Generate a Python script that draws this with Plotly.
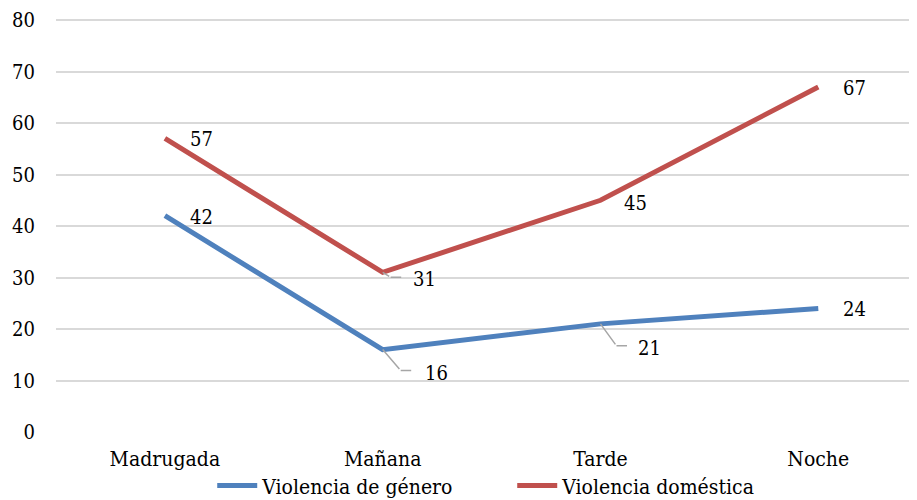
"""Franja horaria: violencia de género vs violencia doméstica."""
import plotly.graph_objects as go

franjas = ['Madrugada', 'Mañana', 'Tarde', 'Noche']
violencia_genero = [42, 16, 21, 24]
violencia_domestica = [57, 31, 45, 67]
y_ticks = [0, 10, 20, 30, 40, 50, 60, 70, 80]

# only serif family available in the sandbox
FONT = 'DejaVu Serif Condensed, DejaVu Serif'
BLUE = '#4F81BD'
RED = '#C0504D'
LEADER = '#A6A6A6'

# label offsets in px (dx to text left edge, dy down to text centre)
# and an optional leader line elbow (diagonal end, horizontal end)
genero_labels = [
    (23, 1, None),
    (40, 23, ((18, 21), (30, 21))),
    (36, 24, ((16, 22), (28, 22))),
    (23, 1, None),
]
domestica_labels = [
    (23, 1, None),
    (28, 7, ((8, 5), (20, 5))),
    (22, 3, None),
    (23, 1, None),
]

fig = go.Figure()

fig.add_trace(go.Scatter(
    x=franjas, y=violencia_genero, mode='lines',
    name='Violencia de género',
    line=dict(color=BLUE, width=5),
))
fig.add_trace(go.Scatter(
    x=franjas, y=violencia_domestica, mode='lines',
    name='Violencia doméstica',
    line=dict(color=RED, width=5),
))


def add_labels(values, offsets):
    for cat, val, (dx, dy, leader) in zip(franjas, values, offsets):
        if leader:
            (x1, y1), (x2, y2) = leader
            # diagonal segment from the point
            fig.add_annotation(
                x=cat, y=val, text='', showarrow=True, arrowhead=0,
                arrowwidth=1.5, arrowcolor=LEADER, ax=x1, ay=y1,
                standoff=0, startstandoff=0,
            )
            # horizontal segment towards the label
            fig.add_annotation(
                x=cat, y=val, text='', showarrow=True, arrowhead=0,
                arrowwidth=1.5, arrowcolor=LEADER, ax=x2 - x1, ay=0,
                xshift=x1, yshift=-y1, standoff=0, startstandoff=0,
            )
        fig.add_annotation(
            x=cat, y=val, text=str(val), showarrow=False,
            xanchor='left', yanchor='middle',
            xshift=dx, yshift=-dy,
            font=dict(family=FONT, size=20, color='#000000'),
        )


add_labels(violencia_genero, genero_labels)
add_labels(violencia_domestica, domestica_labels)

# the page body adds an 8px offset, margins compensate for it
fig.update_layout(
    width=917,
    height=500,
    margin=dict(l=48, r=0, t=10, b=76),
    plot_bgcolor='white',
    paper_bgcolor='white',
    font=dict(family=FONT, size=20, color='#000000'),
    xaxis=dict(
        type='category',
        range=[-0.5, 3.49],
        showgrid=False,
        zeroline=False,
        showline=False,
        ticks='',
        automargin=False,
        ticklabelstandoff=12,
        tickfont=dict(family=FONT, size=21),
    ),
    yaxis=dict(
        range=[0, 80.4],
        tickvals=y_ticks,
        showgrid=True,
        gridcolor='#D9D9D9',
        gridwidth=1.5,
        zeroline=False,
        showline=False,
        ticks='',
        automargin=False,
        ticklabelstandoff=20,
        ticklabeloverflow='allow',
        tickfont=dict(family=FONT, size=20),
    ),
    showlegend=True,
    legend=dict(
        orientation='h',
        x=0.525, xanchor='center',
        y=-0.13, yanchor='middle',
        bgcolor='rgba(0,0,0,0)',
        font=dict(family=FONT, size=21),
        itemwidth=40,
        entrywidth=245,
        tracegroupgap=0,
    ),
)

fig.write_html("out.html")
